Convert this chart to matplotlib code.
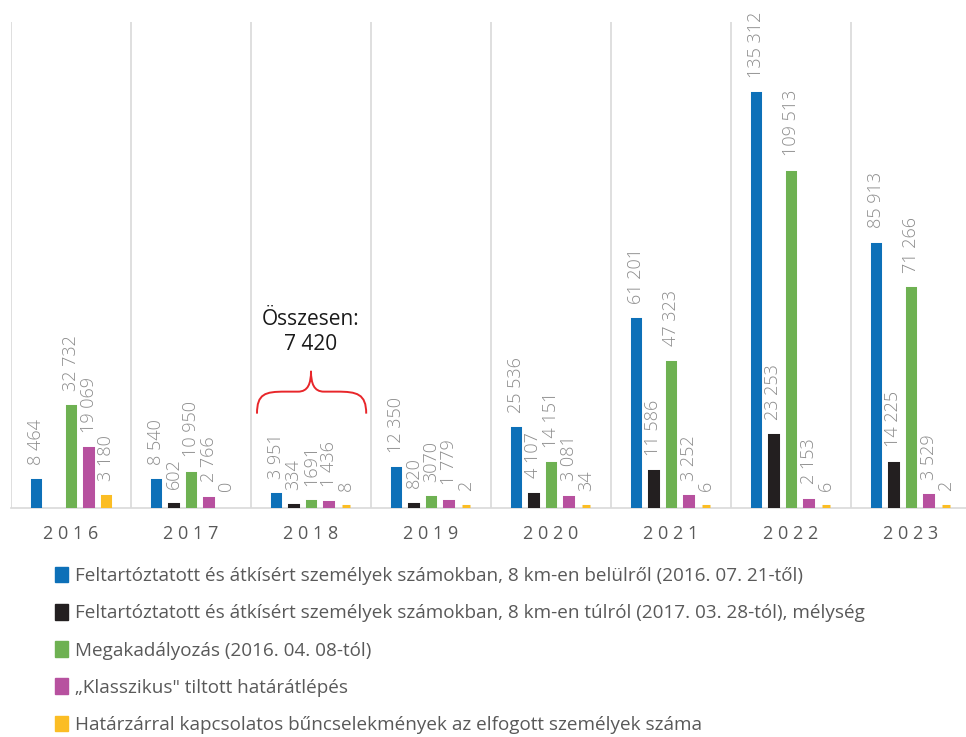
import matplotlib
matplotlib.use("Agg")
import matplotlib.pyplot as plt
import numpy as np
from matplotlib.patches import Patch, PathPatch
from matplotlib.path import Path

plt.rcParams["font.family"] = ["Open Sans", "DejaVu Sans"]

years = ["2016", "2017", "2018", "2019", "2020", "2021", "2022", "2023"]

series_names = [
    "Feltartóztatott és átkísért személyek számokban, 8 km-en belülről (2016. 07. 21-től)",
    "Feltartóztatott és átkísért személyek számokban, 8 km-en túlról (2017. 03. 28-tól), mélység",
    "Megakadályozás (2016. 04. 08-tól)",
    "„Klasszikus\" tiltott határátlépés",
    "Határzárral kapcsolatos bűncselekmények az elfogott személyek száma",
]

inside_8km = [8464, 8540, 3951, 12350, 25536, 61201, 135312, 85913]
beyond_8km = [np.nan, 602, 334, 820, 4107, 11586, 23253, 14225]
prevented = [32732, 10950, 1691, 3070, 14151, 47323, 109513, 71266]
illegal_crossing = [19069, 2766, 1436, 1779, 3081, 3252, 2153, 3529]
crimes = [3180, 0, 8, 2, 34, 6, 6, 2]

# labels printed without thousands separator in the source (series, year index)
no_separator = {(2, 2), (2, 3)}

total_2018 = "7 420"

colors = ["#0d70b8", "#231f20", "#6eb152", "#b7519f", "#fbbd24"]
all_series = [inside_8km, beyond_8km, prevented, illegal_crossing, crimes]


def fmt(v, sep=True):
    s = f"{int(v):,}"
    return s.replace(",", " " if sep else "")


fig = plt.figure(figsize=(9.66, 7.37), dpi=100)
ax = fig.add_axes([11 / 966, 0.3107, 960 / 966, 0.6594])

x = np.arange(len(years))
step = 0.146
width = 0.068

for i, (vals, col) in enumerate(zip(all_series, colors)):
    pos = x + (i - 2) * step
    lw = [0 if (np.isnan(v) or v == 0) else 2.2 for v in vals]
    ax.bar(pos, vals, width=width, color=col, edgecolor=col, linewidth=lw,
           joinstyle="miter", zorder=3)
    for j, v in enumerate(vals):
        if np.isnan(v):
            continue
        ax.annotate(
            fmt(v, (i, j) not in no_separator),
            (pos[j], v),
            xytext=(0, 11),
            textcoords="offset points",
            rotation=90,
            ha="center",
            va="bottom",
            fontsize=13,
            fontweight="light",
            color="#8c8c8c",
        )

ax.set_xlim(-0.5, len(years) - 0.5)
ax.set_ylim(-600, 158500)
for b in np.arange(-0.5, len(years), 1.0):
    ax.axvline(b, color="#d9d9d9", linewidth=1.2, zorder=1)

for s in ["top", "right", "left"]:
    ax.spines[s].set_visible(False)
ax.spines["bottom"].set_color("#d9d9d9")
ax.spines["bottom"].set_linewidth(1.2)
ax.spines["bottom"].set_zorder(2)
ax.set_yticks([])
ax.set_xticks(x)
ax.set_xticklabels(["\u2009\u200a".join(y) for y in years], fontsize=13, color="#595959")
ax.tick_params(axis="x", length=0, pad=12)

# curly brace + total over 2018
gi = years.index("2018")
bx = [-0.45, -0.45, -0.383, -0.217, -0.108, -0.025, 0.0, 0.0,
      0.0, 0.025, 0.108, 0.217, 0.383, 0.46, 0.46]
by = [30300, 36800, 37500, 37500, 37500, 37500, 40100, 44300,
      40100, 37500, 37500, 37500, 37500, 36800, 30300]
codes = [Path.MOVETO, Path.CURVE4, Path.CURVE4, Path.CURVE4, Path.LINETO,
         Path.CURVE4, Path.CURVE4, Path.CURVE4,
         Path.CURVE4, Path.CURVE4, Path.CURVE4, Path.LINETO,
         Path.CURVE4, Path.CURVE4, Path.CURVE4]
verts = [(gi + a, b) for a, b in zip(bx, by)]
ax.add_patch(PathPatch(Path(verts, codes), facecolor="none", edgecolor="#e8262a",
                       linewidth=1.4, zorder=4))
ax.text(gi, 57000, "Összesen:\n" + total_2018, ha="center", va="center",
        fontsize=15, color="#1a1a1a", linespacing=1.3)

handles = [Patch(facecolor=c, edgecolor=c) for c in colors]
fig.legend(
    handles,
    series_names,
    loc="upper left",
    bbox_to_anchor=(0.057, 0.231),
    frameon=False,
    fontsize=13.6,
    handlelength=0.7,
    handleheight=0.9,
    handletextpad=0.35,
    labelspacing=1.0,
    labelcolor="#595959",
    borderaxespad=0,
    borderpad=0,
)

fig.savefig("out.png", dpi=100)
